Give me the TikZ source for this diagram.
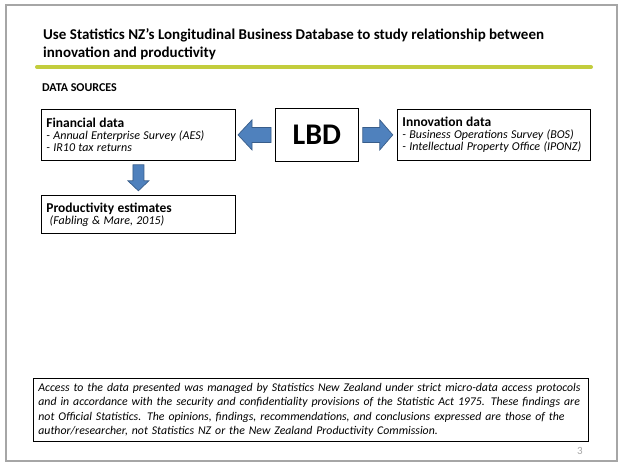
\documentclass[tikz,border=0pt]{standalone}
\usepackage{fontspec}
\setmainfont{Carlito}
\usetikzlibrary{calc}
\definecolor{framegray}{HTML}{A6A6A6}
\definecolor{rulegreen}{HTML}{C3CD3D}
\definecolor{arrowfill}{HTML}{4F81BD}
\definecolor{arrowdraw}{HTML}{385D8A}
\newcommand{\boxhead}[1]{{\fontsize{13.5}{13}\selectfont\bfseries #1}}
\newcommand{\boxitem}[1]{{\fontsize{12}{13}\selectfont\itshape #1}}
\tikzset{
  srcbox/.style={draw=black, line width=0.8pt, rectangle, anchor=north west,
    align=left, inner xsep=5pt, inner ysep=2pt},
  blockarrow/.style={fill=arrowfill, draw=arrowdraw, line width=0.7pt, line join=miter},
}
\begin{document}
\begin{tikzpicture}[x=1pt, y=-1pt]
\useasboundingbox (0,0) rectangle (622,466);
\fill[white] (0,0) rectangle (622,466);
% slide frame
\draw[framegray, line width=1.2pt] (6,5) rectangle (617,461);

% heading and rule
\node[anchor=north west, align=left, inner sep=0pt, font=\fontsize{15}{18}\selectfont\bfseries]
  (title) at (43,28) {Use Statistics NZ’s Longitudinal Business Database to study relationship between\\innovation and productivity};
\draw[rulegreen, line width=4pt, line cap=round] (37,67) coordinate (ruleL) -- (591,67) coordinate (ruleR);
\node[anchor=west, inner sep=0pt, font=\fontsize{12}{13}\selectfont\bfseries] (sources) at (42,88) {DATA SOURCES};

% source boxes
\node[srcbox, text width=184pt, minimum height=51pt] (fin) at (41,109)
  {\boxhead{Financial data}\\
   \boxitem{- Annual Enterprise Survey (AES)}\\
   \boxitem{- IR10 tax returns}};
\node[draw=black, line width=0.8pt, minimum width=83pt, minimum height=53pt, anchor=north west,
  font=\fontsize{30}{32}\selectfont\bfseries] (lbd) at (275,108) {LBD};
\node[srcbox, text width=183pt, minimum height=51pt] (inn) at (397,109)
  {\boxhead{Innovation data}\\
   \boxitem{- Business Operations Survey (BOS)}\\
   \boxitem{- Intellectual Property Office (IPONZ)}};
\node[srcbox, text width=184pt, minimum height=38pt] (prod) at (41,195)
  {\boxhead{Productivity estimates}\\
   \boxitem{\ (Fabling \& Mare, 2015)}};

% block arrows
\draw[blockarrow] ($(lbd.west)+(-4,-7.5)$) -- ++(-19,0) -- ++(0,-7.5) -- ++(-14,15)
  -- ++(14,15) -- ++(0,-7.5) -- ++(19,0) -- cycle;
\draw[blockarrow] ($(lbd.east)+(4,-7.5)$) -- ++(17,0) -- ++(0,-7.5) -- ++(13,15)
  -- ++(-13,15) -- ++(0,-7.5) -- ++(-17,0) -- cycle;
\draw[blockarrow] ($(fin.south)+(-5.5,4)$) -- ++(0,16) -- ++(-5,0) -- ++(10.5,10)
  -- ++(10.5,-10) -- ++(-5,0) -- ++(0,-16) -- cycle;

% disclaimer
\node[draw=black, line width=0.8pt, anchor=north west, minimum height=63pt,
  text width=545pt, align=left, inner xsep=5pt,
  font=\fontsize{11.8}{14.4}\selectfont\itshape] (note) at (33,378)
  {Access to the data presented was managed by Statistics New Zealand under strict micro-data access protocols\\
   and in accordance with the security and confidentiality provisions of the Statistic Act 1975. These findings are\\
   not Official Statistics. The opinions, findings, recommendations, and conclusions expressed are those of the\\
   author/researcher, not Statistics NZ or the New Zealand Productivity Commission.};
\node[text=framegray, font=\fontsize{11}{12}\selectfont, inner sep=0pt] (page) at (580,451) {3};
\end{tikzpicture}
\end{document}
